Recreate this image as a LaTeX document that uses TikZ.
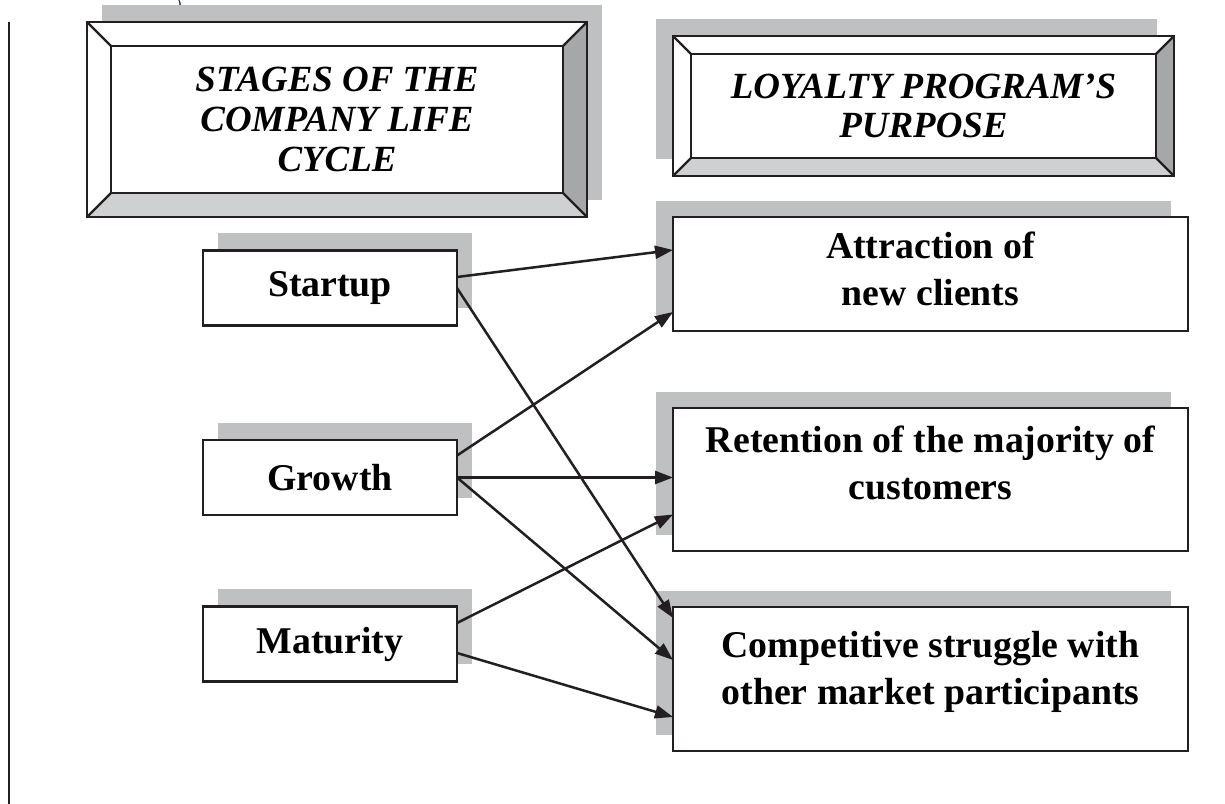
\documentclass[tikz,border=0pt]{standalone}
\usepackage{fontspec}
\setmainfont{Liberation Serif}
\usepackage{tikz}
\usetikzlibrary{arrows.meta,positioning,calc,shadows}
\definecolor{ink}{HTML}{231F20}
\definecolor{shade}{HTML}{BFC0C2}
\definecolor{bevdark}{HTML}{A6A7A9}
\definecolor{bevlight}{HTML}{CFD0D2}
\newcommand{\boxfont}{\fontsize{21.5}{26.5}\selectfont\bfseries}
\newcommand{\headfont}{\fontsize{21}{22.5}\selectfont\bfseries\itshape}
% bevelled frame round a node: #1 node name, #2 bevel width
\newcommand{\bevelframe}[2]{%
  \fill[bevdark] (#1.north east) -- (#1.south east) -- ($(#1.south east)+(-#2,-#2)$) -- ($(#1.north east)+(-#2,#2)$) -- cycle;
  \fill[bevlight] (#1.south west) -- (#1.south east) -- ($(#1.south east)+(-#2,-#2)$) -- ($(#1.south west)+(#2,-#2)$) -- cycle;
  \draw[frame] ($(#1.north west)+(#2,#2)$) rectangle ($(#1.south east)+(-#2,-#2)$);
  \draw[frame] (#1.north west) -- ++(#2,#2) (#1.north east) -- ++(-#2,#2)
               (#1.south west) -- ++(#2,-#2) (#1.south east) -- ++(-#2,-#2);
  \draw[frame] (#1.north west) rectangle (#1.south east);
}
\tikzset{
  >={Triangle[length=3.6mm,width=2.6mm]},
  frame/.style={draw=ink,line width=0.45mm},
  header/.style={frame,fill=white,outer sep=0pt,align=center,font=\headfont},
  stage/.style={frame,fill=white,outer sep=0pt,minimum width=50.8mm,minimum height=15mm,font=\boxfont,
    drop shadow={shadow xshift=3mm,shadow yshift=3.4mm,opacity=1,fill=shade}},
  purpose/.style={frame,fill=white,outer sep=0pt,minimum width=103mm,
    drop shadow={shadow xshift=-3.4mm,shadow yshift=3.2mm,opacity=1,fill=shade}},
  purposetext/.style={align=center,font=\boxfont,inner sep=0pt},
  flow/.style={->,draw=ink,line width=0.5mm}
}

\begin{document}
\begin{tikzpicture}[x=0.2mm,y=-0.2mm]
  \useasboundingbox (0,0) rectangle (1225,804);
  \clip (0,0) rectangle (1225,804);

  % margin rule and caption mark
  \draw[frame] (9,22) -- (9,804);
  \node[font=\fontsize{9}{9}\selectfont,text=ink,inner sep=0pt] (mark) at (179,6) {)};

  % headers
  \node[header,minimum width=100mm,minimum height=39mm,
    drop shadow={shadow xshift=3mm,shadow yshift=3.4mm,opacity=1,fill=shade}]
    (stages) at (337,119.5) {STAGES OF THE\\COMPANY LIFE\\CYCLE};
  \bevelframe{stages}{24}
  \node[header,minimum width=100.2mm,minimum height=28mm,
    drop shadow={shadow xshift=-3.4mm,shadow yshift=3.4mm,opacity=1,fill=shade}]
    (loyalty) at (923.5,106) {LOYALTY PROGRAM'S\\PURPOSE};
  \bevelframe{loyalty}{18}

  % life cycle stages
  \node[stage] (startup) at (330,288) {Startup};
  \node[stage] (growth) at (330,477.5) {Growth};
  \node[stage] (mature) at (330,644) {Maturity};

  % purposes
  \node[purpose,minimum height=22.8mm] (attract) at (930.5,274) {};
  \node[purposetext,below=3mm of attract.north] (attractT) {Attraction of\\new clients};
  \node[purpose,minimum height=28.6mm] (retain) at (930.5,479.5) {};
  \node[purposetext,below=3.6mm of retain.north] (retainT) {Retention of the majority of\\customers};
  \node[purpose,minimum height=28.8mm] (compete) at (930.5,679) {};
  \node[purposetext,below=4.8mm of compete.north] (competeT) {Competitive struggle with\\other market participants};

  \draw[flow] ($(startup.east)+(0,-11)$) -- ($(attract.west)+(0,-24)$);
  \draw[flow] (startup.east) -- ($(compete.west)+(0,-61)$);
  \draw[flow] ($(growth.east)+(0,-22)$) -- ($(attract.west)+(0,38)$);
  \draw[flow] (growth.east) -- (growth.east -| retain.west);
  \draw[flow] (growth.east) -- ($(compete.west)+(0,-19)$);
  \draw[flow] ($(mature.east)+(0,-21)$) -- ($(retain.west)+(0,35)$);
  \draw[flow] ($(mature.east)+(0,9)$) -- ($(compete.west)+(0,38)$);
\end{tikzpicture}
\end{document}
